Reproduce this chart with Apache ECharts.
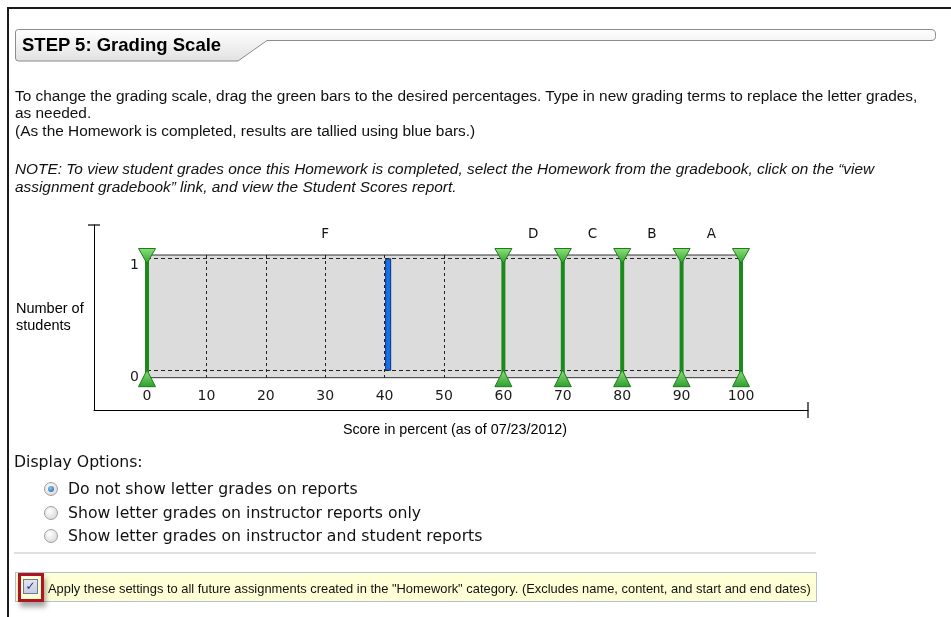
<!DOCTYPE html>
<html>
<head>
<meta charset="utf-8">
<script src="https://cdn.jsdelivr.net/npm/echarts@6/dist/echarts.min.js"></script>
<style>
  body { margin: 0; width: 951px; height: 617px; overflow: hidden; position: relative; background: #fff;
         font-family: "Liberation Sans", Arial, sans-serif; color: #000; }
  #chart { position: absolute; left: 0; top: 0; width: 951px; height: 617px; }
  .abs { position: absolute; white-space: nowrap; }
  #frame { left: 7px; top: 7px; width: 960px; height: 700px; border-top: 2px solid #1a1a1a; border-left: 2px solid #1a1a1a; }
  #step { left: 22px; top: 35px; font-size: 18.5px; font-weight: bold; line-height: 20px; }
  .para { left: 15px; font-size: 15.4px; line-height: 17.7px; color: #111; }
  .opt { font-family: "DejaVu Sans", Verdana, sans-serif; font-size: 15.7px; line-height: 23.5px; color: #111; }
  .radio { position: absolute; width: 12px; height: 12px; border-radius: 50%; border: 1px solid #a0a0a0;
           background: radial-gradient(circle at 40% 35%, #ffffff, #d0d0d0); }
  .radio.on::after { content: ""; position: absolute; left: 3px; top: 3px; width: 6px; height: 6px; border-radius: 50%;
           background: radial-gradient(circle at 40% 35%, #8cc4f0, #1b5a9c); }
  #sep { left: 14px; top: 552px; width: 802px; height: 0; border-top: 2px solid #e0e0e0; }
  #apply { left: 15px; top: 572px; width: 800px; height: 28px; background: #ffffd6; border: 1px solid #b3c0d4; }
  #redbox { left: 18px; top: 573px; width: 20px; height: 23px; border: 3px solid #b0141c; box-shadow: 2px 5px 5px rgba(0,0,0,0.35); }
  #cb { left: 23px; top: 579px; width: 13px; height: 13px; border: 1px solid #6a7a98;
        background: linear-gradient(#e4e6f0, #c8cce0); font: bold 12px "DejaVu Sans", sans-serif; color: #22318a;
        text-align: center; line-height: 13px; }
  #applytext { left: 48px; top: 581.8px; font-size: 12.9px; line-height: 14px; color: #111; }
</style>
</head>
<body>
<div id="chart"></div>
<div class="abs" id="frame"></div>
<svg class="abs" style="left:0;top:0" width="951" height="70">
  <defs>
    <linearGradient id="hg" x1="0" y1="0" x2="0" y2="1">
      <stop offset="0" stop-color="#ffffff"/>
      <stop offset="1" stop-color="#e2e2e2"/>
    </linearGradient>
  </defs>
  <path d="M15.5,32 Q15.5,29.5 18.5,29.5 H931 Q935.5,29.5 935.5,34 V36.5 Q935.5,40.5 931,40.5 H267 L238,61 H18.5 Q15.5,61 15.5,58 Z"
        fill="url(#hg)" stroke="#8c8c8c" stroke-width="1"/>
</svg>
<div class="abs" id="step">STEP 5: Grading Scale</div>
<div class="abs para" style="top:86.5px">To change the grading scale, drag the green bars to the desired percentages. Type in new grading terms to replace the letter grades,<br>as needed.<br>(As the Homework is completed, results are tallied using blue bars.)</div>
<div class="abs para" style="top:159.8px;font-style:italic">NOTE: To view student grades once this Homework is completed, select the Homework from the gradebook, click on the “view<br>assignment gradebook” link, and view the Student Scores report.</div>
<div class="abs opt" style="left:14px;top:450px">Display Options:</div>
<div class="radio on" style="left:44px;top:482px"></div>
<div class="radio" style="left:44px;top:505.5px"></div>
<div class="radio" style="left:44px;top:529px"></div>
<div class="abs opt" style="left:68px;top:477.1px">Do not show letter grades on reports<br>Show letter grades on instructor reports only<br>Show letter grades on instructor and student reports</div>
<div class="abs" id="sep"></div>
<div class="abs" id="apply"></div>
<div class="abs" id="redbox"></div>
<div class="abs" id="cb">✓</div>
<div class="abs" id="applytext">Apply these settings to all future assignments created in the "Homework" category. (Excludes name, content, and start and end dates)</div>
<script>
// grading scale cut points (percent) and the grade names between them
var cutoffs = [0, 60, 70, 80, 90, 100];
var grades = ['F', 'D', 'C', 'B', 'A'];
// tallied scores (blue bars): score in percent, number of students
var scores = [40.6];
var counts = [1];

var chart = echarts.init(document.getElementById('chart'));

var greenFill = new echarts.graphic.LinearGradient(0, 0, 0, 1, [
  { offset: 0, color: '#8ee27a' },
  { offset: 1, color: '#2c9e2c' }
]);

var gradeMids = grades.map(function (g, i) {
  return [(cutoffs[i] + cutoffs[i + 1]) / 2, i];
});

var option = {
  animation: false,
  textStyle: { fontFamily: '"Liberation Sans", Arial, sans-serif' },
  grid: [
    { left: 147, top: 255, width: 594, height: 122.7, show: true,
      backgroundColor: '#dcdcdc', borderColor: '#333', borderWidth: 1 },
    { left: 94, top: 225, width: 714, height: 185 }
  ],
  xAxis: [
    {
      gridIndex: 0, type: 'value', min: 0, max: 100, interval: 10,
      axisLine: { show: false }, axisTick: { show: false },
      axisLabel: { margin: 12, fontSize: 14, color: '#1a1a1a', fontFamily: '"DejaVu Sans", Verdana, sans-serif' },
      splitLine: { show: true, lineStyle: { type: [3, 3], color: '#222', width: 1 } }
    },
    {
      gridIndex: 1, type: 'value', min: 0, max: 1,
      axisLine: { show: true, symbol: ['none', 'rect'], symbolSize: [16, 1.2], lineStyle: { color: '#000', width: 1 } },
      axisTick: { show: false }, axisLabel: { show: false }, splitLine: { show: false },
      name: 'Score in percent (as of 07/23/2012)', nameLocation: 'middle', nameGap: 13,
      nameTextStyle: { fontSize: 14.3, color: '#000', padding: [0, 0, 0, 8] }
    }
  ],
  yAxis: [
    {
      gridIndex: 0, type: 'value', min: -0.062, max: 1.03,
      axisLine: { show: false }, axisTick: { show: false }, splitLine: { show: false },
      axisLabel: {
        margin: 8, fontSize: 14, color: '#1a1a1a', verticalAlign: 'top',
        fontFamily: '"DejaVu Sans", Verdana, sans-serif',
        formatter: function (v) { return (v === 0 || v === 1) ? String(v) : ''; }
      }
    },
    {
      gridIndex: 1, type: 'value', min: 0, max: 1,
      axisLine: { show: true, symbol: ['none', 'rect'], symbolSize: [12, 1.2], lineStyle: { color: '#000', width: 1 } },
      axisTick: { show: false }, axisLabel: { show: false }, splitLine: { show: false },
      name: 'Number of\nstudents', nameLocation: 'middle', nameRotate: 0, nameGap: 78,
      nameTextStyle: { align: 'left', fontSize: 14.5, lineHeight: 17, color: '#000', padding: [0, 0, 7, 0] }
    }
  ],
  series: [
    {
      type: 'bar', xAxisIndex: 0, yAxisIndex: 0,
      data: scores.map(function (s, i) { return [s, counts[i]]; }),
      barWidth: 6,
      itemStyle: { color: '#1670ee', borderColor: '#0b2f7a', borderWidth: 1 },
      markLine: {
        silent: true, symbol: 'none', label: { show: false },
        lineStyle: { type: [4, 3], color: '#222', width: 1 },
        data: [{ yAxis: 0 }, { yAxis: 1 }]
      }
    },
    {
      type: 'custom', xAxisIndex: 0, yAxisIndex: 0, z: 5,
      data: cutoffs.map(function (c) { return [c]; }),
      renderItem: function (params, api) {
        var x = api.coord([api.value(0), 0])[0];
        var top = params.coordSys.y;
        var bot = params.coordSys.y + params.coordSys.height;
        return {
          type: 'group',
          children: [
            { type: 'line', shape: { x1: x, y1: top, x2: x, y2: bot },
              style: { stroke: '#1a8a1a', lineWidth: 4 } },
            { type: 'polygon', shape: { points: [[x - 8.5, top - 6.5], [x + 8.5, top - 6.5], [x, top + 8.5]] },
              style: { fill: greenFill, stroke: '#1f7a1f', lineWidth: 1, lineJoin: 'round' } },
            { type: 'polygon', shape: { points: [[x - 8.5, bot + 9], [x + 8.5, bot + 9], [x, bot - 7.7]] },
              style: { fill: greenFill, stroke: '#1f7a1f', lineWidth: 1, lineJoin: 'round' } }
          ]
        };
      }
    },
    {
      type: 'custom', xAxisIndex: 0, yAxisIndex: 0, z: 5,
      data: gradeMids,
      renderItem: function (params, api) {
        var x = api.coord([api.value(0), 0])[0];
        return {
          type: 'text',
          style: {
            text: grades[api.value(1)], x: x, y: params.coordSys.y - 20.5,
            align: 'center', verticalAlign: 'middle',
            font: '13.5px "DejaVu Sans", Verdana, sans-serif', fill: '#111'
          }
        };
      }
    }
  ]
};

chart.setOption(option);
</script>
</body>
</html>
